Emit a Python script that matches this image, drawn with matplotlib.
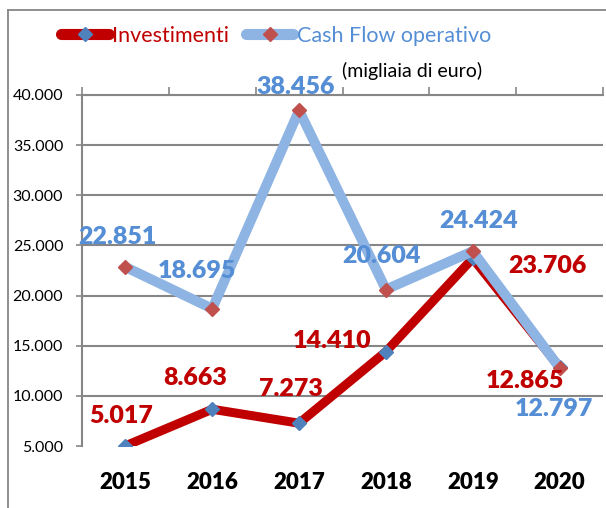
import matplotlib
matplotlib.use("Agg")
import matplotlib.pyplot as plt
from matplotlib.lines import Line2D
import numpy as np

years = ["2015", "2016", "2017", "2018", "2019", "2020"]
investimenti = [5017, 8663, 7273, 14410, 23706, 12865]
cash_flow = [22851, 18695, 38456, 20604, 24424, 12797]
y_ticks = [5000, 10000, 15000, 20000, 25000, 30000, 35000, 40000]

# label offsets in pixels (dx, dy)
inv_off = [(-4, 30), (-17, 31), (-8, 34), (-54, 11), (75, -8), (-35, -14)]
cf_off = [(-8, 30), (-15, 38), (-3, 23), (-4, 34), (6, 30), (-6, -41)]

RED = "#C00000"
BLUE_LINE = "#8EB4E3"
BLUE_TXT = "#558ED5"
MK_BLUE = "#4F81BD"
MK_RED = "#C0504D"
GRAY = "#868686"

plt.rcParams["font.family"] = ["Lato", "DejaVu Sans"]

fig = plt.figure(figsize=(6.06, 5.08), dpi=100)
ax = fig.add_axes([82/606, 1-446/508, (603-82)/606, (446-95)/508])

xs = np.arange(len(years)) + 0.5
ax.plot(xs, investimenti, color=RED, lw=6.5, solid_capstyle="round",
        marker="D", markersize=7.5, markerfacecolor=MK_BLUE, markeredgecolor=MK_BLUE,
        label="Investimenti", zorder=3)
ax.plot(xs, cash_flow, color=BLUE_LINE, lw=7.2, solid_capstyle="round",
        marker="D", markersize=7.5, markerfacecolor=MK_RED, markeredgecolor=MK_RED,
        label="Cash Flow operativo", zorder=4)

for x, v, (dx, dy) in zip(xs, investimenti, inv_off):
    ax.annotate(f"{v:,}".replace(",", "."), (x, v), xytext=(dx, dy),
                textcoords="offset pixels", ha="center", va="center",
                fontsize=18, fontweight="heavy", color=RED, zorder=6)
for x, v, (dx, dy) in zip(xs, cash_flow, cf_off):
    ax.annotate(f"{v:,}".replace(",", "."), (x, v), xytext=(dx, dy),
                textcoords="offset pixels", ha="center", va="center",
                fontsize=18, fontweight="heavy", color=BLUE_TXT, zorder=6)

ax.set_xlim(0, len(years))
ax.set_ylim(y_ticks[0], y_ticks[-1])
ax.set_yticks(y_ticks)
ax.set_yticklabels([f"{t:,}".replace(",", ".") for t in y_ticks], fontsize=11.5)

ax.set_xticks(np.arange(len(years) + 1))
ax.set_xticks(xs, minor=True)
ax.set_xticklabels(years, minor=True, fontsize=16, fontweight="heavy")
ax.tick_params(axis="x", which="major", top=True, bottom=False,
               labelbottom=False, labeltop=False, direction="out",
               length=6, width=1.2, color=GRAY)
ax.tick_params(axis="x", which="minor", bottom=False, top=False,
               labelbottom=True, length=0, pad=19)
ax.tick_params(axis="y", direction="out", length=4.5, width=1.2, color=GRAY, pad=9)

for s in ["bottom", "right"]:
    ax.spines[s].set_visible(False)
for s in ["top", "left"]:
    ax.spines[s].set_color(GRAY)
    ax.spines[s].set_linewidth(1.5)

ax.yaxis.grid(True, color=GRAY, lw=1.5)
ax.set_axisbelow(True)
ax.get_ygridlines()[0].set_visible(False)

leg = fig.legend(loc="center", bbox_to_anchor=(276/606, 1-36/508), ncol=2,
                 frameon=False, fontsize=15.5, handlelength=2.2,
                 handletextpad=0.15, columnspacing=0.8)
for t, c in zip(leg.get_texts(), [RED, BLUE_TXT]):
    t.set_color(c)
for h in leg.legend_handles:
    h.set_linewidth(8)

fig.text(482/606, 1-71/508, "(migliaia di euro)", ha="right", va="center",
         fontsize=14, color="black")

fig.add_artist(Line2D([8/606, 1.0], [1-10/508, 1-10/508], transform=fig.transFigure,
                      color=GRAY, lw=1.3))
fig.add_artist(Line2D([8/606, 8/606], [0, 1-10/508], transform=fig.transFigure,
                      color=GRAY, lw=1.3))

fig.savefig("out.png", dpi=100)
